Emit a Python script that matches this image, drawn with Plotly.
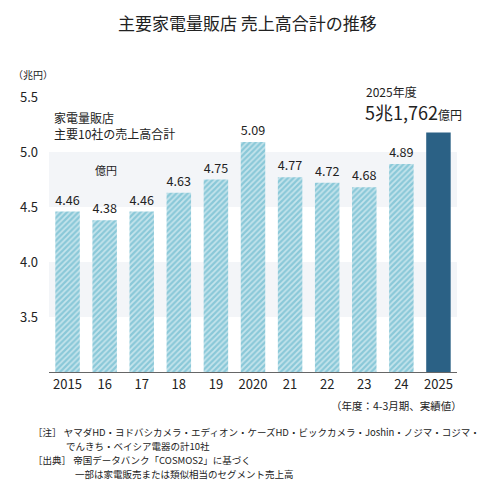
import plotly.graph_objects as go

FONT = "Noto Sans CJK JP"
TEXT_COLOR = "#222222"
HATCH_COLOR = "#8ac8d8"
SOLID_COLOR = "#2b6185"
BAND_COLOR = "#f3f5f8"

years = ["2015", "16", "17", "18", "19", "2020", "21", "22", "23", "24", "2025"]
sales = [4.46, 4.38, 4.46, 4.63, 4.75, 5.09, 4.77, 4.72, 4.68, 4.89, 5.1762]
y_ticks = [3.5, 4.0, 4.5, 5.0, 5.5]
bands = [(3.5, 4.0), (4.5, 5.0)]

past_years, past_sales = years[:-1], sales[:-1]
latest_year, latest_sales = years[-1:], sales[-1:]

fig = go.Figure()
# 実績（2015-24）: 斜線
fig.add_trace(go.Bar(
    x=past_years,
    y=past_sales,
    text=[f"{v:.2f}" for v in past_sales],
    textposition="outside",
    cliponaxis=False,
    textfont=dict(family=FONT, size=13, color=TEXT_COLOR),
    width=0.66,
    marker=dict(
        color=HATCH_COLOR,
        line=dict(width=0),
        pattern=dict(shape="/", fgcolor="white", fillmode="overlay",
                     size=4, solidity=0.45),
    ),
    hoverinfo="skip",
))
# 2025年度: 塗り
fig.add_trace(go.Bar(
    x=latest_year,
    y=latest_sales,
    width=0.66,
    marker=dict(color=SOLID_COLOR, line=dict(width=0)),
    hoverinfo="skip",
))

shapes = []
for lo, hi in bands:
    shapes.append(dict(type="rect", xref="paper", yref="y", x0=0, x1=1,
                       y0=lo, y1=hi, fillcolor=BAND_COLOR, line=dict(width=0),
                       layer="below"))

# page has an 8px body margin, so the figure is a bit smaller than the window
OFF = 8
W, H = 486 - OFF, 496 - OFF
L, R, T, B = 40 - OFF, 486 - 457, 86 - OFF, 496 - 372
PW, PH = W - L - R, H - T - B

ann = []


def note(text, x, y, size=11, xanchor="left"):
    # x, y in reference pixels -> plot-area paper coords
    x, y = x - OFF, y - OFF
    ann.append(dict(text=text, x=(x - L) / PW, y=(H - B - y) / PH,
                    xref="paper", yref="paper",
                    xanchor=xanchor, yanchor="middle", showarrow=False,
                    font=dict(family=FONT, size=size, color=TEXT_COLOR),
                    align="left"))


note("主要家電量販店 売上高合計の推移", 243, 22, size=17, xanchor="center")
note("（兆円）", 1, 75, size=10)
note("家電量販店<br>主要10社の売上高合計", 43, 125, size=12)
note("億円", 85, 170, size=11)
note("2025年度", 362, 91, size=12)
note("<span style='font-size:18px'>5兆1,762</span>億円", 361, 112, size=12)
note("（年度：4-3月期、実績値）", 464, 405, size=10.5, xanchor="right")
note("［注］ ヤマダHD・ヨドバシカメラ・エディオン・ケーズHD・ビックカメラ・Joshin・ノジマ・コジマ・", 22, 432, size=9.5)
note("でんきち・ベイシア電器の計10社", 55, 446, size=9.5)
note("［出典］ 帝国データバンク「COSMOS2」に基づく", 22, 460, size=9.5)
note("一部は家電販売または類似相当のセグメント売上高", 65, 474, size=9.5)

fig.update_layout(
    width=W, height=H,
    margin=dict(l=L, r=R, t=T, b=B),
    paper_bgcolor="white",
    plot_bgcolor="white",
    showlegend=False,
    barmode="overlay",
    shapes=shapes,
    annotations=ann,
    font=dict(family=FONT, color=TEXT_COLOR),
)
fig.update_xaxes(
    type="category",
    categoryorder="array",
    categoryarray=years,
    range=[-0.5, 10.5],
    showline=True, linecolor="#666666", linewidth=1,
    ticks="", showgrid=False,
    tickfont=dict(family=FONT, size=13, color=TEXT_COLOR),
)
fig.update_yaxes(
    range=[3.0, 5.6],
    tickvals=y_ticks,
    ticktext=[f"{v:.1f}" for v in y_ticks],
    showgrid=False, zeroline=False, showline=False, ticks="",
    ticklabelstandoff=10,
    tickfont=dict(family=FONT, size=13, color=TEXT_COLOR),
)

fig.write_html("out.html")
